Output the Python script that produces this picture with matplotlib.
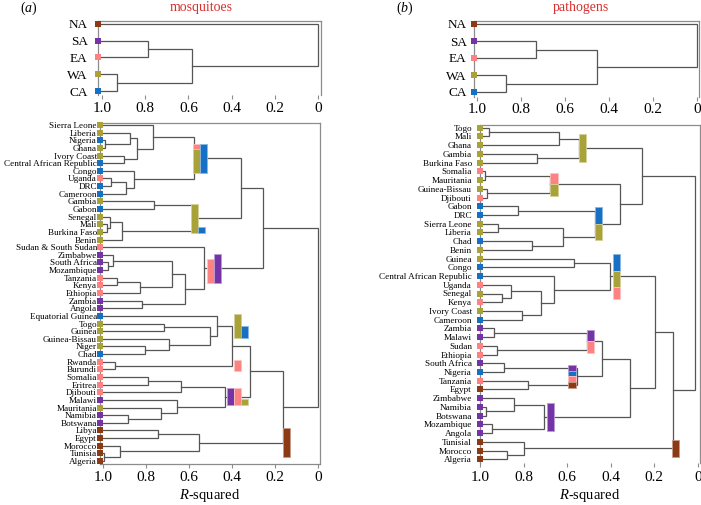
import matplotlib
matplotlib.use('Agg')
import matplotlib.pyplot as plt
from matplotlib.patches import Rectangle
from matplotlib.colors import to_rgb

# Serif text like the original figure.
plt.rcParams['font.family'] = ['Liberation Serif', 'DejaVu Serif']
plt.rcParams['mathtext.fontset'] = 'custom'
plt.rcParams['mathtext.rm'] = 'Liberation Serif'
plt.rcParams['mathtext.it'] = 'Liberation Serif:italic'

# ---- data -------------------------------------------------------------
region_colors = {'NA': '#8b3a14', 'SA': '#7434a6', 'EA': '#ff8282',
                 'WA': '#a8a238', 'CA': '#1670c4'}
regions = ['NA', 'SA', 'EA', 'WA', 'CA']

# merges: (child, child, R-squared); ints point at earlier merges
top_merges_a = [('SA', 'EA', 0.785), ('WA', 'CA', 0.928), (0, 1, 0.582), ('NA', 2, 0.0)]
top_merges_b = [('SA', 'EA', 0.732), ('WA', 'CA', 0.867), (0, 1, 0.453), ('NA', 2, 0.0)]

countries_a = ['Sierra Leone', 'Liberia', 'Nigeria', 'Ghana', 'Ivory Coast',
               'Central African Republic', 'Congo', 'Uganda', 'DRC', 'Cameroon',
               'Gambia', 'Gabon', 'Senegal', 'Mali', 'Burkina Faso', 'Benin',
               'Sudan & South Sudan', 'Zimbabwe', 'South Africa', 'Mozambique',
               'Tanzania', 'Kenya', 'Ethiopia', 'Zambia', 'Angola',
               'Equatorial Guinea', 'Togo', 'Guinea', 'Guinea-Bissau', 'Niger',
               'Chad', 'Rwanda', 'Burundi', 'Somalia', 'Eritrea', 'Djibouti',
               'Malawi', 'Mauritania', 'Namibia', 'Botswana', 'Libya', 'Egypt',
               'Morocco', 'Tunisia', 'Algeria']
regions_a = ['WA', 'WA', 'CA', 'WA', 'WA', 'CA', 'CA', 'EA', 'CA', 'CA',
             'WA', 'CA', 'WA', 'WA', 'WA', 'WA', 'EA', 'SA', 'SA', 'SA',
             'EA', 'EA', 'EA', 'SA', 'SA', 'CA', 'WA', 'WA', 'WA', 'WA',
             'CA', 'EA', 'EA', 'EA', 'EA', 'EA', 'SA', 'WA', 'SA', 'SA',
             'NA', 'NA', 'NA', 'NA', 'NA']
merges_a = [
    ('Nigeria', 'Ghana', 0.990),                 # 0
    ('Liberia', 0, 0.875),                       # 1
    ('Ivory Coast', 'Central African Republic', 0.903),  # 2
    (1, 2, 0.845),                               # 3
    ('Sierra Leone', 3, 0.770),                  # 4
    ('Uganda', 'DRC', 0.964),                    # 5
    (5, 'Cameroon', 0.894),                      # 6
    ('Congo', 6, 0.857),                         # 7
    (4, 7, 0.575),                               # 8
    ('Gambia', 'Gabon', 0.762),                  # 9
    ('Mali', 'Burkina Faso', 0.984),             # 10
    ('Senegal', 10, 0.969),                      # 11
    (11, 'Benin', 0.914),                        # 12
    (9, 12, 0.583),                              # 13
    (8, 13, 0.359),                              # 14
    ('South Africa', 'Mozambique', 0.976),       # 15
    ('Zimbabwe', 15, 0.953),                     # 16
    ('Tanzania', 'Kenya', 0.935),                # 17
    (17, 'Ethiopia', 0.831),                     # 18
    (16, 18, 0.678),                             # 19
    ('Zambia', 'Angola', 0.818),                 # 20
    (19, 20, 0.619),                             # 21
    ('Sudan & South Sudan', 21, 0.530),          # 22
    (14, 22, 0.254),                             # 23
    ('Togo', 'Guinea', 0.715),                   # 24
    ('Niger', 'Chad', 0.804),                    # 25
    ('Guinea-Bissau', 25, 0.694),                # 26
    (24, 26, 0.503),                             # 27
    ('Equatorial Guinea', 27, 0.471),            # 28
    ('Rwanda', 'Burundi', 0.944),                # 29
    (28, 29, 0.398),                             # 30
    ('Somalia', 'Eritrea', 0.790),               # 31
    (31, 'Djibouti', 0.639),                     # 32
    ('Namibia', 'Botswana', 0.883),              # 33
    ('Mauritania', 33, 0.731),                   # 34
    ('Malawi', 34, 0.657),                       # 35
    (32, 35, 0.431),                             # 36
    (30, 36, 0.315),                             # 37
    ('Libya', 'Egypt', 0.743),                   # 38
    ('Tunisia', 'Algeria', 0.995),               # 39
    ('Morocco', 39, 0.922),                      # 40
    (38, 40, 0.552),                             # 41
    (37, 41, 0.160),                             # 42
    (23, 42, 0.0),                               # 43
]
# composition bars: (R-squared of left edge, cluster, columns of (region, count))
bars_a = [
    (0.582, 8, [[('EA', 1), ('WA', 4)], [('CA', 5)]]),
    (0.591, 13, [[('WA', 5)], [('CA', 1)]]),
    (0.516, 22, [[('EA', 4)], [('SA', 5)]]),
    (0.390, 28, [[('WA', 4)], [('CA', 2)]]),
    (0.390, 29, [[('EA', 2)]]),
    (0.423, 36, [[('SA', 3)], [('EA', 3)], [('WA', 1)]]),
    (0.162, 41, [[('NA', 5)]]),
]

countries_b = ['Togo', 'Mali', 'Ghana', 'Gambia', 'Burkina Faso', 'Somalia',
               'Mauritania', 'Guinea-Bissau', 'Djibouti', 'Gabon', 'DRC',
               'Sierra Leone', 'Liberia', 'Chad', 'Benin', 'Guinea', 'Congo',
               'Central African Republic', 'Uganda', 'Senegal', 'Kenya',
               'Ivory Coast', 'Cameroon', 'Zambia', 'Malawi', 'Sudan', 'Ethiopia',
               'South Africa', 'Nigeria', 'Tanzania', 'Egypt', 'Zimbabwe',
               'Namibia', 'Botswana', 'Mozambique', 'Angola', 'Tunisial',
               'Morocco', 'Algeria']
regions_b = ['WA', 'WA', 'WA', 'WA', 'WA', 'EA', 'WA', 'WA', 'EA', 'CA',
             'CA', 'WA', 'WA', 'CA', 'WA', 'WA', 'CA', 'CA', 'EA', 'WA',
             'EA', 'WA', 'CA', 'SA', 'SA', 'EA', 'EA', 'SA', 'CA', 'EA',
             'NA', 'SA', 'SA', 'SA', 'SA', 'SA', 'NA', 'NA', 'NA']
merges_b = [
    ('Togo', 'Mali', 0.958),                     # 0
    (0, 'Ghana', 0.639),                         # 1
    ('Gambia', 'Burkina Faso', 0.741),           # 2
    (1, 2, 0.546),                               # 3
    ('Somalia', 'Mauritania', 0.978),            # 4
    ('Guinea-Bissau', 'Djibouti', 0.967),        # 5
    (4, 5, 0.681),                               # 6
    ('Gabon', 'DRC', 0.827),                     # 7
    ('Sierra Leone', 'Liberia', 0.917),          # 8
    ('Chad', 'Benin', 0.760),                    # 9
    (8, 9, 0.618),                               # 10
    (7, 10, 0.472),                              # 11
    (6, 11, 0.357),                              # 12
    (3, 12, 0.257),                              # 13
    ('Guinea', 'Congo', 0.568),                  # 14
    ('Senegal', 'Kenya', 0.901),                 # 15
    ('Uganda', 15, 0.860),                       # 16
    ('Ivory Coast', 'Cameroon', 0.809),          # 17
    (16, 17, 0.722),                             # 18
    ('Central African Republic', 18, 0.661),     # 19
    (14, 19, 0.403),                             # 20
    ('Zambia', 'Malawi', 0.936),                 # 21
    ('Sudan', 'Ethiopia', 0.925),                # 22
    (21, 22, 0.510),                             # 23
    ('South Africa', 'Nigeria', 0.889),          # 24
    ('Tanzania', 'Egypt', 0.779),                # 25
    (24, 25, 0.557),                             # 26
    (23, 26, 0.438),                             # 27
    ('Namibia', 'Botswana', 0.973),              # 28
    ('Zimbabwe', 28, 0.843),                     # 29
    ('Mozambique', 'Angola', 0.947),             # 30
    (29, 30, 0.705),                             # 31
    (27, 31, 0.312),                             # 32
    (20, 32, 0.196),                             # 33
    ('Morocco', 'Algeria', 0.875),               # 34
    ('Tunisial', 34, 0.797),                     # 35
    (33, 35, 0.115),                             # 36
    (13, 36, 0.012),                             # 37
]
bars_b = [
    (0.546, 3, [[('WA', 5)]]),
    (0.678, 6, [[('EA', 2), ('WA', 2)]]),
    (0.472, 11, [[('CA', 3), ('WA', 3)]]),
    (0.391, 20, [[('CA', 3), ('WA', 3), ('EA', 2)]]),
    (0.510, 23, [[('SA', 2), ('EA', 2)]]),
    (0.595, 26, [[('SA', 1), ('CA', 1), ('EA', 1), ('NA', 1)]]),
    (0.693, 31, [[('SA', 5)]]),
    (0.120, 35, [[('NA', 3)]]),
]

ticks = [1.0, 0.8, 0.6, 0.4, 0.2, 0]
tick_labels = ['1.0', '0.8', '0.6', '0.4', '0.2', '0']

# ---- drawing ------------------------------------------------------------
LINE = '#555555'
SPINE = '#8c8c8c'
W, H = 701, 505
fig = plt.figure(figsize=(W / 100, H / 100), dpi=100)


def tree_axes(x_one, x_zero, left, right, top, bottom, first_leaf, last_leaf, n,
              show_bottom=False):
    # pixel layout -> axes whose data x is R-squared, data y is leaf index
    ax = fig.add_axes([left / W, 1 - bottom / H, (right - left) / W, (bottom - top) / H])
    px = x_zero - x_one
    leaf_r = 1.0 + (x_one - left) / px
    ax.set_xlim(leaf_r, -(right - x_zero) / px)
    step = (last_leaf - first_leaf) / (n - 1)
    ax.set_ylim((n - 1) + (bottom - last_leaf) / step, -(first_leaf - top) / step)
    ax.spines['bottom'].set_visible(show_bottom)
    for s in ['left', 'top', 'right', 'bottom']:
        ax.spines[s].set_color(SPINE)
        ax.spines[s].set_linewidth(0.9)
    ax.set_xticks(ticks)
    ax.set_xticklabels(tick_labels)
    return ax, leaf_r


def draw_tree(ax, leaf_r, leaves, leaf_regions, merges, label_size, label_pad,
              marker_size, tick_pad):
    pos = {name: (leaf_r, i) for i, name in enumerate(leaves)}
    for k, (a, b, h) in enumerate(merges):
        xa, ya = pos[a]
        xb, yb = pos[b]
        ax.plot([xa, h, h, xb], [ya, ya, yb, yb], color=LINE, lw=0.9,
                solid_joinstyle='miter', zorder=2)
        pos[k] = (h, (ya + yb) / 2)
    for i, reg in enumerate(leaf_regions):
        ax.plot(leaf_r, i, 's', color=region_colors[reg], ms=marker_size,
                mew=0, clip_on=False, zorder=4)
    ax.set_yticks(range(len(leaves)))
    ax.set_yticklabels(leaves)
    ax.tick_params(axis='y', length=0, pad=label_pad, labelsize=label_size)
    ax.tick_params(axis='x', length=3, width=0.8, color=SPINE, pad=tick_pad, labelsize=11)
    return pos


def lighten(c, f=0.5):
    r, g, b = to_rgb(c)
    return (r + (1 - r) * f, g + (1 - g) * f, b + (1 - b) * f)


def draw_bars(ax, pos, bars, unit, width):
    for r, node, columns in bars:
        yc = pos[node][1]
        tallest = max(sum(c for _, c in col) for col in columns)
        bottom = yc + tallest * unit / 2
        for j, col in enumerate(columns):
            x0 = r - j * width
            y = bottom - sum(c for _, c in col) * unit
            for reg, cnt in col:
                col_c = region_colors[reg]
                ax.add_patch(Rectangle((x0, y), -width, cnt * unit, facecolor=col_c,
                                       edgecolor=lighten(col_c), lw=0.6, zorder=3))
                y += cnt * unit


# panel (a)
ax_ta, r_ta = tree_axes(101.8, 318.3, 97.5, 320.5, 21, 95, 24, 91, 5)
draw_tree(ax_ta, r_ta, regions, regions, top_merges_a, 9.5, 7, 5, 2)
ax_a, r_a = tree_axes(103.3, 317.7, 100, 320.3, 123.3, 464, 125, 461,
                      len(countries_a), show_bottom=True)
pos_a = draw_tree(ax_a, r_a, countries_a, regions_a, merges_a, 6.6, 2.2, 4.6, 2)
draw_bars(ax_a, pos_a, bars_a, 0.76, 0.033)

# panel (b)
ax_tb, r_tb = tree_axes(476.7, 697, 474, 698.5, 20.7, 96.7, 24, 92, 5)
draw_tree(ax_tb, r_tb, regions, regions, top_merges_b, 9.5, 5.3, 5, 1.8)
ax_b, r_b = tree_axes(480.2, 697.7, 479.5, 700, 125, 463, 127.7, 459.3, len(countries_b))
pos_b = draw_tree(ax_b, r_b, countries_b, regions_b, merges_b, 6.6, 5.4, 4.6, 2.5)
draw_bars(ax_b, pos_b, bars_b, 0.64, 0.034)

# titles and labels
red = '#d7302f'
fig.text(29 / W, 1 - 8 / H, '($a$)', ha='center', va='center', fontsize=10)
fig.text(201 / W, 1 - 8 / H, 'mosquitoes', ha='center', va='center', fontsize=10, color=red)
fig.text(405 / W, 1 - 8 / H, '($b$)', ha='center', va='center', fontsize=10)
fig.text(581 / W, 1 - 8 / H, 'pathogens', ha='center', va='center', fontsize=10, color=red)
fig.text(210 / W, 1 - 496 / H, '$R$-squared', ha='center', va='center', fontsize=10.5)
fig.text(590 / W, 1 - 496 / H, '$R$-squared', ha='center', va='center', fontsize=10.5)

plt.savefig('out.png', dpi=100)
